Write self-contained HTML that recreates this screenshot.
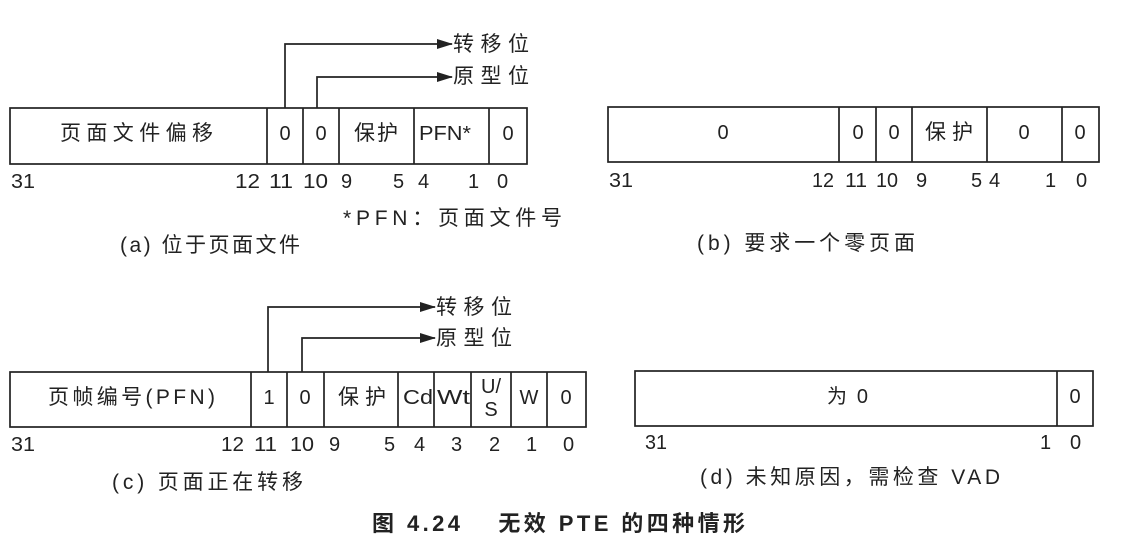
<!DOCTYPE html>
<html><head><meta charset="utf-8"><style>
html,body{margin:0;padding:0;background:#fff;}
svg{display:block;}
text{font-family:"Liberation Sans","Noto Sans CJK SC",sans-serif;font-size:20px;fill:#222;}
.k{font-size:21px;}
.c{text-anchor:middle;}
</style></head><body>
<svg width="1121" height="541" viewBox="0 0 1121 541" xmlns="http://www.w3.org/2000/svg">
<defs><marker id="ah" markerWidth="16" markerHeight="10" refX="15" refY="5" orient="auto" markerUnits="userSpaceOnUse"><path d="M0,0 L16,5 L0,10 z" fill="#222"/></marker></defs>
<g stroke="#222" stroke-width="1.7" fill="none">
<rect x="10" y="108" width="517" height="56"/>
<path d="M267 108V164M303 108V164M339 108V164M414 108V164M489 108V164"/>
<path d="M285 108V44H452" marker-end="url(#ah)"/>
<path d="M317 108V77H452" marker-end="url(#ah)"/>
<rect x="608" y="107" width="491" height="55"/>
<path d="M839 107V162M876 107V162M912 107V162M987 107V162M1062 107V162"/>
<rect x="10" y="372" width="576" height="55"/>
<path d="M251 372V427M287 372V427M324 372V427M398 372V427M434 372V427M471 372V427M511 372V427M547 372V427"/>
<path d="M268 372V307H435" marker-end="url(#ah)"/>
<path d="M302 372V338H435" marker-end="url(#ah)"/>
<rect x="635" y="371" width="458" height="55"/>
<path d="M1057 371V426"/>
</g>
<text class="k" x="453" y="51" textLength="76" lengthAdjust="spacing">转移位</text>
<text class="k" x="453" y="83" textLength="76" lengthAdjust="spacing">原型位</text>
<text class="k" x="436" y="314" textLength="76" lengthAdjust="spacing">转移位</text>
<text class="k" x="436" y="345" textLength="76" lengthAdjust="spacing">原型位</text>
<!-- (a) -->
<text class="k" x="60" y="140" textLength="153" lengthAdjust="spacing">页面文件偏移</text>
<text class="c" x="285" y="140">0</text>
<text class="c" x="321" y="140">0</text>
<text class="k" x="354" y="140" textLength="44" lengthAdjust="spacing">保护</text>
<text x="419" y="140" textLength="52" lengthAdjust="spacingAndGlyphs">PFN*</text>
<text class="c" x="508" y="140">0</text>
<text x="11" y="188" textLength="24" lengthAdjust="spacingAndGlyphs">31</text>
<text x="235" y="188" textLength="25" lengthAdjust="spacingAndGlyphs">12</text>
<text x="269" y="188" textLength="24" lengthAdjust="spacingAndGlyphs">11</text>
<text x="303" y="188" textLength="25" lengthAdjust="spacingAndGlyphs">10</text>
<text x="341" y="188">9</text><text x="393" y="188">5</text><text x="418" y="188">4</text>
<text x="468" y="188">1</text><text x="497" y="188">0</text>
<text class="k" x="343" y="225" textLength="219" lengthAdjust="spacing">*PFN：页面文件号</text>
<text class="k" x="120" y="252" textLength="180" lengthAdjust="spacing">(a) 位于页面文件</text>
<!-- (b) -->
<text class="c" x="723" y="139">0</text>
<text class="c" x="858" y="139">0</text>
<text class="c" x="894" y="139">0</text>
<text class="k" x="925" y="139" textLength="48" lengthAdjust="spacing">保护</text>
<text class="c" x="1024" y="139">0</text>
<text class="c" x="1080" y="139">0</text>
<text x="609" y="187" textLength="24" lengthAdjust="spacingAndGlyphs">31</text>
<text x="812" y="187" textLength="22" lengthAdjust="spacingAndGlyphs">12</text>
<text x="845" y="187" textLength="22" lengthAdjust="spacingAndGlyphs">11</text>
<text x="876" y="187" textLength="22" lengthAdjust="spacingAndGlyphs">10</text>
<text x="916" y="187">9</text><text x="971" y="187">5</text><text x="989" y="187">4</text>
<text x="1045" y="187">1</text><text x="1076" y="187">0</text>
<text class="k" x="697" y="250" textLength="218" lengthAdjust="spacing">(b) 要求一个零页面</text>
<!-- (c) -->
<text class="k" x="48" y="404" textLength="167" lengthAdjust="spacing">页帧编号(PFN)</text>
<text class="c" x="269" y="404">1</text>
<text class="c" x="305" y="404">0</text>
<text class="k" x="338" y="404" textLength="48" lengthAdjust="spacing">保护</text>
<text x="403" y="404" textLength="30" lengthAdjust="spacingAndGlyphs">Cd</text>
<text x="437" y="404" textLength="33" lengthAdjust="spacingAndGlyphs">Wt</text>
<text class="c" x="491" y="393">U/</text>
<text class="c" x="491" y="416">S</text>
<text class="c" x="529" y="404">W</text>
<text class="c" x="566" y="404">0</text>
<text x="11" y="451" textLength="24" lengthAdjust="spacingAndGlyphs">31</text>
<text x="221" y="451" textLength="23" lengthAdjust="spacingAndGlyphs">12</text>
<text x="254" y="451" textLength="23" lengthAdjust="spacingAndGlyphs">11</text>
<text x="290" y="451" textLength="24" lengthAdjust="spacingAndGlyphs">10</text>
<text x="329" y="451">9</text><text x="384" y="451">5</text><text x="414" y="451">4</text>
<text x="451" y="451">3</text><text x="489" y="451">2</text><text x="526" y="451">1</text><text x="563" y="451">0</text>
<text class="k" x="112" y="489" textLength="191" lengthAdjust="spacing">(c) 页面正在转移</text>
<!-- (d) -->
<text x="827" y="403" textLength="41" lengthAdjust="spacing">为 0</text>
<text class="c" x="1075" y="403">0</text>
<text x="645" y="449" textLength="22" lengthAdjust="spacingAndGlyphs">31</text>
<text x="1040" y="449">1</text><text x="1070" y="449">0</text>
<text class="k" x="700" y="484" textLength="300" lengthAdjust="spacing">(d) 未知原因，需检查 VAD</text>
<text x="372" y="531" textLength="373" lengthAdjust="spacing" style="font-weight:bold;font-size:22px">图 4.24　 无效 PTE 的四种情形</text>
</svg>
</body></html>
